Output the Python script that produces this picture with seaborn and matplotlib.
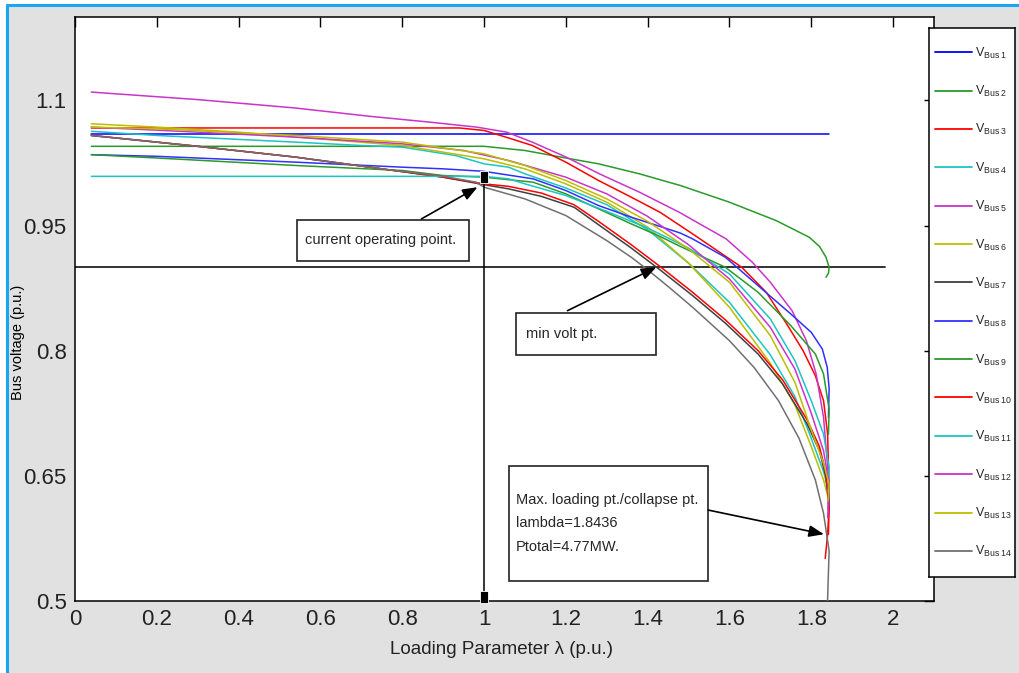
import numpy as np
import pandas as pd
import seaborn as sns
import matplotlib
matplotlib.use("Agg")
import matplotlib.pyplot as plt
from matplotlib.patches import Rectangle
from matplotlib.lines import Line2D

# ---------------- data ----------------
lam_bus1 = [0.04, 1.8436]
v_bus1 = [1.06, 1.06]

lam_bus2 = [0.04, 0.5, 1.0, 1.1, 1.2, 1.28, 1.38, 1.48, 1.6, 1.714, 1.795, 1.82, 1.836, 1.8436, 1.842, 1.836]
v_bus2 = [1.045, 1.045, 1.045, 1.04, 1.031, 1.024, 1.012, 0.998, 0.978, 0.956, 0.936, 0.925, 0.912, 0.900, 0.893, 0.888]

lam_bus3 = [0.04, 0.5, 0.94, 1.0, 1.04, 1.06, 1.118, 1.2, 1.28, 1.36, 1.43, 1.51, 1.63, 1.69, 1.74, 1.78, 1.81, 1.83, 1.84, 1.8436, 1.842]
v_bus3 = [1.067, 1.067, 1.067, 1.064, 1.058, 1.055, 1.046, 1.026, 1.004, 0.984, 0.966, 0.94, 0.90, 0.87, 0.832, 0.80, 0.77, 0.74, 0.70, 0.63, 0.58]

lam_bus4 = [0.04, 0.2, 0.54, 0.7, 0.8, 0.93, 1.0, 1.06, 1.1, 1.2, 1.3, 1.4, 1.5, 1.6, 1.7, 1.76, 1.8, 1.83, 1.8436, 1.841]
v_bus4 = [1.063, 1.058, 1.05, 1.046, 1.044, 1.034, 1.024, 1.02, 1.012, 0.995, 0.975, 0.945, 0.905, 0.858, 0.795, 0.745, 0.695, 0.655, 0.63, 0.61]

lam_bus5 = [0.04, 0.3, 0.537, 0.72, 0.867, 0.982, 1.055, 1.118, 1.201, 1.282, 1.38, 1.477, 1.592, 1.656, 1.70, 1.753, 1.788, 1.812, 1.83, 1.8436, 1.841]
v_bus5 = [1.110, 1.101, 1.091, 1.081, 1.074, 1.068, 1.062, 1.05, 1.032, 1.012, 0.99, 0.966, 0.934, 0.906, 0.882, 0.848, 0.812, 0.772, 0.72, 0.64, 0.61]

lam_bus6 = [0.04, 0.2, 0.4, 0.54, 0.8, 1.0, 1.1, 1.2, 1.3, 1.4, 1.5, 1.6, 1.7, 1.76, 1.8, 1.83, 1.8436, 1.841]
v_bus6 = [1.072, 1.068, 1.062, 1.056, 1.046, 1.03, 1.018, 1.0, 0.978, 0.948, 0.905, 0.852, 0.785, 0.735, 0.685, 0.645, 0.62, 0.60]

lam_bus7 = [0.04, 0.3, 0.54, 0.78, 0.9, 1.0, 1.06, 1.14, 1.22, 1.28, 1.36, 1.43, 1.51, 1.59, 1.67, 1.73, 1.79, 1.82, 1.835, 1.8436, 1.841]
v_bus7 = [1.058, 1.045, 1.032, 1.016, 1.008, 0.999, 0.994, 0.985, 0.972, 0.951, 0.923, 0.897, 0.866, 0.833, 0.796, 0.760, 0.712, 0.680, 0.650, 0.62, 0.60]

lam_bus8 = [0.04, 0.2, 0.54, 0.8, 0.9, 1.0, 1.04, 1.12, 1.2, 1.28, 1.36, 1.43, 1.48, 1.51, 1.59, 1.67, 1.75, 1.80, 1.827, 1.839, 1.8436, 1.842]
v_bus8 = [1.035, 1.033, 1.026, 1.02, 1.018, 1.015, 1.012, 1.006, 0.992, 0.974, 0.960, 0.949, 0.941, 0.934, 0.912, 0.878, 0.844, 0.822, 0.802, 0.78, 0.755, 0.72]

lam_bus9 = [0.04, 0.2, 0.54, 0.8, 0.9, 1.0, 1.04, 1.12, 1.2, 1.28, 1.36, 1.43, 1.48, 1.59, 1.67, 1.75, 1.81, 1.83, 1.8436, 1.842]
v_bus9 = [1.035, 1.031, 1.022, 1.016, 1.01, 1.008, 1.006, 1.002, 0.988, 0.970, 0.952, 0.937, 0.925, 0.90, 0.870, 0.830, 0.796, 0.772, 0.73, 0.70]

lam_bus10 = [0.04, 0.3, 0.54, 0.78, 0.9, 1.0, 1.06, 1.14, 1.22, 1.28, 1.36, 1.43, 1.51, 1.59, 1.67, 1.73, 1.79, 1.82, 1.835, 1.8436, 1.84, 1.834]
v_bus10 = [1.058, 1.045, 1.032, 1.016, 1.008, 1.0, 0.997, 0.989, 0.975, 0.955, 0.927, 0.901, 0.870, 0.837, 0.800, 0.765, 0.717, 0.685, 0.655, 0.61, 0.58, 0.551]

lam_bus11 = [0.04, 0.5, 1.0, 1.06, 1.1, 1.2, 1.3, 1.4, 1.5, 1.6, 1.7, 1.76, 1.8, 1.83, 1.8436, 1.841]
v_bus11 = [1.009, 1.009, 1.009, 1.006, 1.0, 0.986, 0.967, 0.947, 0.923, 0.892, 0.838, 0.788, 0.74, 0.70, 0.66, 0.63]

lam_bus12 = [0.04, 0.3, 0.54, 0.8, 0.95, 1.06, 1.2, 1.3, 1.4, 1.5, 1.6, 1.7, 1.76, 1.8, 1.83, 1.8436, 1.841]
v_bus12 = [1.068, 1.062, 1.056, 1.048, 1.04, 1.028, 1.008, 0.988, 0.961, 0.927, 0.886, 0.828, 0.778, 0.725, 0.68, 0.64, 0.60]

lam_bus13 = [0.04, 0.2, 0.54, 0.8, 1.0, 1.1, 1.2, 1.3, 1.4, 1.5, 1.6, 1.7, 1.76, 1.8, 1.83, 1.8436, 1.841]
v_bus13 = [1.068, 1.066, 1.058, 1.05, 1.036, 1.022, 1.004, 0.982, 0.955, 0.922, 0.882, 0.818, 0.762, 0.705, 0.665, 0.64, 0.62]

lam_bus14 = [0.04, 0.3, 0.54, 0.78, 0.89, 0.98, 1.0, 1.1, 1.2, 1.3, 1.36, 1.4, 1.45, 1.51, 1.6, 1.66, 1.72, 1.77, 1.81, 1.83, 1.8436, 1.841, 1.838]
v_bus14 = [1.058, 1.045, 1.032, 1.016, 1.01, 1.002, 0.996, 0.982, 0.962, 0.932, 0.912, 0.897, 0.877, 0.852, 0.812, 0.780, 0.740, 0.695, 0.645, 0.605, 0.56, 0.52, 0.47]

bus_names = [f"Bus {i}" for i in range(1, 15)]
bus_colors = ["#0000ff", "#2a9a2a", "#ff0000", "#1cc4c4", "#c935c9", "#bdbd00", "#404040",
              "#3030ff", "#2a9a2a", "#ff0000", "#1cc4c4", "#c935c9", "#bdbd00", "#707070"]

x_ticks = [0, 0.2, 0.4, 0.6, 0.8, 1, 1.2, 1.4, 1.6, 1.8, 2]
x_ticklabels = ["0", "0.2", "0.4", "0.6", "0.8", "1", "1.2", "1.4", "1.6", "1.8", "2"]
y_ticks = [0.5, 0.65, 0.8, 0.95, 1.1]
y_ticklabels = ["0.5", "0.65", "0.8", "0.95", "1.1"]

op_point_lam = [1.0, 1.0]
op_point_v = [1.008, 0.505]
min_volt = 0.9
min_volt_line_end = 1.98

# ---------------- build long-form table ----------------
lams = [lam_bus1, lam_bus2, lam_bus3, lam_bus4, lam_bus5, lam_bus6, lam_bus7,
        lam_bus8, lam_bus9, lam_bus10, lam_bus11, lam_bus12, lam_bus13, lam_bus14]
vs = [v_bus1, v_bus2, v_bus3, v_bus4, v_bus5, v_bus6, v_bus7,
      v_bus8, v_bus9, v_bus10, v_bus11, v_bus12, v_bus13, v_bus14]
frames = []
for name, l, v in zip(bus_names, lams, vs):
    frames.append(pd.DataFrame({"lam": l, "V": v, "bus": name}))
df = pd.concat(frames, ignore_index=True)

# ---------------- figure ----------------
sns.set_style("white")
plt.rcParams["font.family"] = ["Liberation Sans", "DejaVu Sans"]
plt.rcParams["mathtext.fontset"] = "custom"
plt.rcParams["mathtext.rm"] = "Liberation Sans"

W, H = 1019, 673
fig = plt.figure(figsize=(W / 100, H / 100), dpi=100, facecolor="#e1e1e1")
fig.add_artist(Rectangle((0, 0), 7 / W, 1, transform=fig.transFigure, facecolor="white",
                         edgecolor="none", zorder=-5))
fig.add_artist(Rectangle((0, 1 - 5 / H), 1, 5 / H, transform=fig.transFigure, facecolor="white",
                         edgecolor="none", zorder=-5))
fig.add_artist(Line2D([7 / W, 7 / W], [0, 1 - 5 / H], transform=fig.transFigure, color="#1aa6ee", lw=2.2))
fig.add_artist(Line2D([7 / W, 1], [1 - 5 / H, 1 - 5 / H], transform=fig.transFigure, color="#1aa6ee", lw=2.2))

ax = fig.add_axes([75 / W, 1 - 601 / H, 859 / W, 584 / H])
ax.set_facecolor("white")

for name, col in zip(bus_names, bus_colors):
    sub = df[df["bus"] == name]
    sns.lineplot(data=sub, x="lam", y="V", sort=False, estimator=None, color=col,
                 lw=1.1, ax=ax, legend=False, zorder=3)

# reference lines / markers
ax.plot([0, min_volt_line_end], [min_volt, min_volt], color="#222222", lw=1.3, zorder=2)
ax.plot(op_point_lam, op_point_v, color="black", lw=1.1, zorder=4)
rect_marker = [(-0.32, -0.5), (0.32, -0.5), (0.32, 0.5), (-0.32, 0.5), (-0.32, -0.5)]
ax.plot(op_point_lam, op_point_v, ls="none", marker=rect_marker, markersize=9,
        color="black", markeredgecolor="white", markeredgewidth=0.6, zorder=5, clip_on=False)

ax.set_xlim(0, 2.1)
ax.set_ylim(0.5, 1.2)
ax.set_xticks(x_ticks)
ax.set_xticklabels(x_ticklabels)
ax.set_yticks(y_ticks)
ax.set_yticklabels(y_ticklabels)
ax.tick_params(direction="in", length=7, width=1, top=True, right=True, pad=6, colors="black")
for lab in ax.get_xticklabels() + ax.get_yticklabels():
    lab.set_fontsize(16)
    lab.set_color("#222222")
for s in ax.spines.values():
    s.set_color("black")
    s.set_linewidth(1.1)

ax.set_xlabel("Loading Parameter λ (p.u.)", fontsize=13.5, color="#222222")
ax.xaxis.set_label_coords((502 - 75) / 859, -(641 - 601) / 584)
ax.set_ylabel("Bus voltage (p.u.)", fontsize=10.5, color="black")
ax.yaxis.set_label_coords(-(75 - 25) / 859, (601 - 342) / 584)

# annotation boxes
box_style = dict(facecolor="white", edgecolor="#222222", lw=1.2, zorder=6)
ax.add_patch(Rectangle((0.542, 0.908), 0.420, 0.049, **box_style))
ax.text(0.562, 0.9325, "current operating point.", fontsize=10.5,
        va="center", ha="left", zorder=7)
ax.add_patch(Rectangle((1.077, 0.795), 0.344, 0.050, **box_style))
ax.text(1.103, 0.820, "min volt pt.", fontsize=10.5, va="center", ha="left", zorder=7)
ax.add_patch(Rectangle((1.060, 0.524), 0.488, 0.138, **box_style))
ax.text(1.077, 0.593, "Max. loading pt./collapse pt.\nlambda=1.8436\nPtotal=4.77MW.",
        fontsize=10.5, va="center", ha="left", linespacing=1.85, zorder=7)

arrow = dict(arrowstyle="-|>,head_length=0.9,head_width=0.35", color="black", lw=1.2,
             shrinkA=0, shrinkB=0)
ax.annotate("", xy=(0.984, 0.996), xytext=(0.847, 0.958), arrowprops=arrow, zorder=8)
ax.annotate("", xy=(1.421, 0.900), xytext=(1.204, 0.848), arrowprops=arrow, zorder=8)
ax.annotate("", xy=(1.831, 0.580), xytext=(1.548, 0.609), arrowprops=arrow, zorder=8)

# legend in its own framed box
lax = fig.add_axes([929 / W, 1 - 577 / H, 86 / W, 549 / H])
lax.set_facecolor("white")
lax.set_xticks([])
lax.set_yticks([])
for s in lax.spines.values():
    s.set_color("black")
    s.set_linewidth(1.1)
handles = [Line2D([], [], color=c, lw=1.3) for c in bus_colors]
labels = [r"$\mathrm{V}_{\mathrm{" + n.replace(" ", r"\;") + "}}$" for n in bus_names]
lax.legend(handles, labels, loc="center left", bbox_to_anchor=(0.0, 0.5), frameon=False,
           fontsize=9, handlelength=2.95, handletextpad=0.3, labelspacing=1.86,
           borderpad=0.0, borderaxespad=0.45)

fig.savefig("out.png", dpi=100, facecolor=fig.get_facecolor())
